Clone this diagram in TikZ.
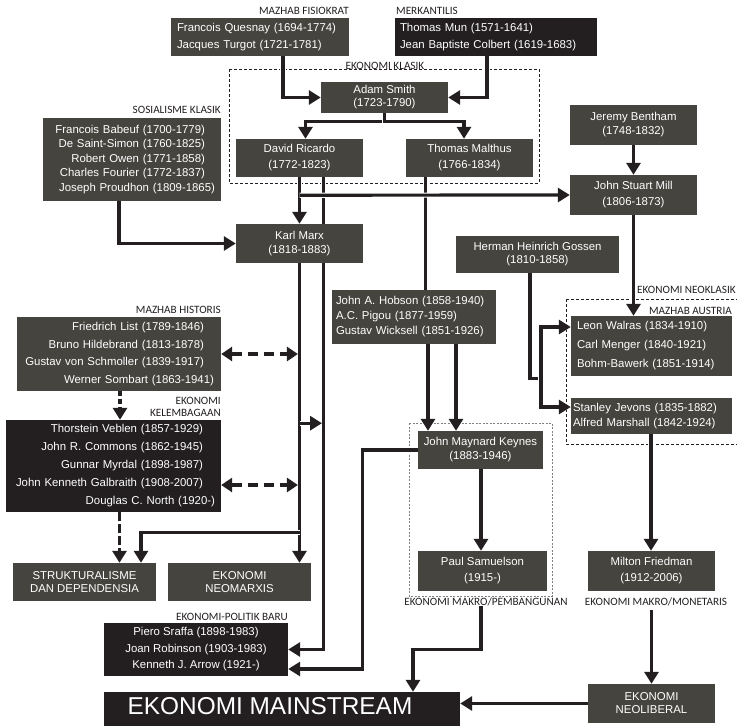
\documentclass[tikz,border=0pt]{standalone}
\usepackage{fontspec}
\setmainfont{Liberation Sans}
\newfontfamily\lblfont{Carlito}
\usetikzlibrary{arrows.meta,calc,backgrounds}
\definecolor{boxgray}{HTML}{45443F}
\definecolor{boxblack}{HTML}{231F20}
\definecolor{ink}{HTML}{231F20}
\newcommand\boxfs[1]{\fontsize{11.4}{#1}\selectfont}
\newcommand\lblfs{\lblfont\fontsize{11.2}{12.5}\selectfont}
\begin{document}
\begin{tikzpicture}[x=1pt,y=-1pt,
  gbox/.style={fill=boxgray,text=white,inner sep=0pt},
  kbox/.style={fill=boxblack,text=white,inner sep=0pt},
  lbl/.style={text=ink,inner sep=0pt,font=\lblfs},
  conn/.style={draw=ink,line width=3.2pt,preaction={draw=white,line width=5.2pt}},
  arr/.style={conn,-{Triangle[width=14pt,length=12pt]}},
  darr/.style={draw=ink,line width=3.2pt,dash pattern=on 10pt off 6pt,{Triangle[width=14pt,length=11pt]}-{Triangle[width=14pt,length=11pt]}},
  dvert/.style={draw=ink,line width=3.2pt,dash pattern=on 5pt off 3pt,-{Triangle[width=14pt,length=12pt]}},
  frame/.style={draw=ink,line width=0.7pt,dash pattern=on 3pt off 2pt},
  gframe/.style={draw=gray,line width=0.8pt,dash pattern=on 2pt off 1.5pt},
]
\useasboundingbox (0,0) rectangle (737,726);

% ---------- boxes ----------
\node[gbox,minimum width=178pt,minimum height=38pt,text width=166pt,align=left,font=\boxfs{17}] (quesnay) at (260,37) {Francois Quesnay (1694-1774)\\Jacques Turgot (1721-1781)};
\node[kbox,minimum width=202pt,minimum height=38pt,text width=192pt,align=left,font=\boxfs{17}] (mun) at (496,37) {Thomas Mun (1571-1641)\\Jean Baptiste Colbert (1619-1683)};
\node[gbox,minimum width=127pt,minimum height=31pt,align=center,font=\boxfs{13}] (smith) at (384.5,97.5) {Adam Smith\\(1723-1790)};
\node[gbox,minimum width=127pt,minimum height=38pt,align=center,font=\boxfs{16}] (ricardo) at (299.5,158) {David Ricardo\\(1772-1823)};
\node[gbox,minimum width=127pt,minimum height=38pt,align=center,font=\boxfs{16}] (malthus) at (469.5,158) {Thomas Malthus\\(1766-1834)};
\node[gbox,minimum width=127pt,minimum height=40pt,align=center,font=\boxfs{14}] (bentham) at (633.5,125) {Jeremy Bentham\\(1748-1832)};
\node[gbox,minimum width=127pt,minimum height=40pt,align=center,font=\boxfs{16}] (mill) at (633.5,195) {John Stuart Mill\\(1806-1873)};
\node[gbox,minimum width=178pt,minimum height=83pt,text width=166pt,align=right,font=\boxfs{14.5}] (babeuf) at (132,159.5) {\rightskip=10pt\relax Francois Babeuf (1700-1779)\\De Saint-Simon (1760-1825)\\Robert Owen (1771-1858)\\Charles Fourier (1772-1837)\\Joseph Proudhon (1809-1865)};
\node[gbox,minimum width=127pt,minimum height=39pt,align=center,font=\boxfs{14}] (marx) at (299.5,243.5) {Karl Marx\\(1818-1883)};
\node[gbox,minimum width=163pt,minimum height=37pt,align=center,font=\boxfs{13}] (gossen) at (537.5,254.5) {Herman Heinrich Gossen\\(1810-1858)};
\node[gbox,minimum width=164pt,minimum height=54pt,text width=156pt,align=left,font=\boxfs{15}] (hobson) at (414,317) {John A. Hobson (1858-1940)\\A.C. Pigou (1877-1959)\\Gustav Wicksell (1851-1926)};
\node[gbox,minimum width=204pt,minimum height=74pt,text width=190pt,align=right,font=\boxfs{17.7}] (historis) at (119,354) {\rightskip=10pt\relax Friedrich List (1789-1846)\\Bruno Hildebrand (1813-1878)\\Gustav von Schmoller (1839-1917)\\Werner Sombart (1863-1941)};
\node[kbox,minimum width=215pt,minimum height=92pt,text width=203pt,align=right,font=\boxfs{18}] (kelembagaan) at (113.5,466) {\rightskip=12pt\relax Thorstein Veblen (1857-1929)\\John R. Commons (1862-1945)\\Gunnar Myrdal (1898-1987)\\John Kenneth Galbraith (1908-2007)\\Douglas C. North (1920-)};
\node[gbox,minimum width=161pt,minimum height=60pt,text width=149pt,align=left,font=\boxfs{19}] (walras) at (651.5,346) {Leon Walras (1834-1910)\\Carl Menger (1840-1921)\\Bohm-Bawerk (1851-1914)};
\node[gbox,minimum width=161pt,minimum height=36pt,text width=157pt,align=left,font=\boxfs{15}] (jevons) at (651.5,416) {Stanley Jevons (1835-1882)\\Alfred Marshall (1842-1924)};
\node[gbox,minimum width=125pt,minimum height=38pt,align=center,font=\boxfs{14}] (keynes) at (480.5,450) {John Maynard Keynes\\(1883-1946)};
\node[gbox,minimum width=129pt,minimum height=40pt,align=center,font=\boxfs{16}] (samuelson) at (482.5,571) {Paul Samuelson\\(1915-)};
\node[gbox,minimum width=127pt,minimum height=40pt,align=center,font=\boxfs{16}] (friedman) at (651.5,571) {Milton Friedman\\(1912-2006)};
\node[gbox,minimum width=143pt,minimum height=38pt,align=center,font=\boxfs{13.5}] (strukt) at (84.5,582) {STRUKTURALISME\\DAN DEPENDENSIA};
\node[gbox,minimum width=143pt,minimum height=38pt,align=center,font=\boxfs{13.5}] (neomarxis) at (239.5,582) {EKONOMI\\NEOMARXIS};
\node[kbox,minimum width=184pt,minimum height=53pt,align=center,font=\boxfs{16.5}] (sraffa) at (196,649.5) {Piero Sraffa (1898-1983)\\Joan Robinson (1903-1983)\\Kenneth J. Arrow (1921-)};
\node[kbox,minimum width=356pt,minimum height=34pt,text depth=6pt,font=\fontsize{24.4}{28}\selectfont] (mainstream) at (282,709) {EKONOMI MAINSTREAM\hspace*{24pt}};
\node[gbox,minimum width=127pt,minimum height=39pt,align=center,font=\boxfs{13}] (neoliberal) at (651.5,703.5) {EKONOMI\\NEOLIBERAL};

% ---------- labels ----------
\node[lbl,anchor=east] (lfis) at (349,10.5) {MAZHAB FISIOKRAT};
\node[lbl,anchor=west] (lmerk) at (396,10.5) {MERKANTILIS};
\node[lbl] (lklasik) at (385,65.5) {EKONOMI KLASIK};
\node[lbl,anchor=east] (lsos) at (221,110) {SOSIALISME KLASIK};
\node[lbl,anchor=east] (lhist) at (221,310) {MAZHAB HISTORIS};
\node[lbl,anchor=east,align=right] (lkel) at (221,407) {EKONOMI\\KELEMBAGAAN};
\node[lbl,anchor=west] (lneo) at (637,289.5) {EKONOMI NEOKLASIK};
\node[lbl,anchor=east] (laus) at (732,310.5) {MAZHAB AUSTRIA};
\node[lbl] (lmakro) at (486,601.5) {EKONOMI MAKRO/PEMBANGUNAN};
\node[lbl] (lmon) at (656,601.5) {EKONOMI MAKRO/MONETARIS};
\node[lbl] (lepb) at (232,617) {EKONOMI-POLITIK BARU};

% ---------- frames and connectors ----------
\begin{scope}[on background layer]
\draw[frame] (229,69) rectangle (539,183);
\draw[gframe] (409,423) rectangle (552,596);
\draw[frame] (566,299) rectangle (760,444);

\draw[arr] ($(quesnay.south)+(23,0)$) |- (smith.west);
\draw[arr] ($(mun.south)+(-9,0)$) |- (smith.east);
\draw[arr] (smith.south) -- ++(0,8) -| ($(ricardo.north)+(6,0)$);
\draw[arr] (smith.south) -- ++(0,8) -| ($(malthus.north)+(-5.5,0)$);
\draw[arr] (bentham.south) -- (mill.north);
\draw[arr] (mill.south) -- ($(walras.north)+(-18,0)$);
\draw[conn] ($(malthus.south)+(-44,0)$) -- ($(hobson.north)+(11.5,0)$);
\draw[arr] ($(ricardo.south)+(24,0)$) |- (sraffa.east);
\draw[arr] (ricardo.south) -- (marx.north);
\draw[arr] ($(ricardo.south)+(0,18)$) -- (mill.west);
\draw[arr] ($(babeuf.south)+(-13,0)$) |- (marx.west);
\draw[arr] (marx.south) -- ($(neomarxis.north)+(60,0)$);
\draw[arr] ($(marx.south)+(0,269)$) -| ($(strukt.north)+(56.5,0)$);
\draw[arr] ($(marx.south)+(0,160)$) -- ($(ricardo.south)+(22.5,246)$);
\draw[darr,shorten >=1.6pt] (historis.east) -- (historis.east -| marx.south);
\coordinate (kl) at ($(kelembagaan.east)+(0,19)$);
\draw[darr,shorten >=1.6pt] (kl) -- (kl -| marx.south);
\draw[dvert] ($(historis.south)+(1,0)$) -- ($(kelembagaan.north)+(6.5,0)$);
\draw[dvert,dash pattern=on 9pt off 3pt] ($(kelembagaan.south)+(6,0)$) -- ($(strukt.north)+(35,0)$);
\draw[arr] (keynes.west) -- ++(-55,0) |- ($(sraffa.east)+(0,19.5)$);
\draw[arr] ($(hobson.south)+(14,0)$) -- ($(keynes.north)+(-52.5,0)$);
\draw[arr] ($(hobson.south)+(42,0)$) -- ($(keynes.north)+(-24.5,0)$);
\draw[arr] ($(keynes.south)+(0.5,0)$) -- ($(samuelson.north)+(-1.5,0)$);
\draw[arr] ($(samuelson.south)+(-1.5,15)$) -- ++(0,43) -| ($(mainstream.north)+(131,0)$);
\draw[arr] ($(jevons.south)+(-0.5,0)$) -- ($(friedman.north)+(-0.5,0)$);
\draw[arr] ($(friedman.south)+(0,19)$) -- (neoliberal.north);
\draw[arr] (neoliberal.west) -- (neoliberal.west -| mainstream.east);
\coordinate (gj) at ($(gossen.south)+(3.5,105)$);
\draw[conn] ($(gossen.south)+(-7.5,0)$) |- (gj);
\draw[arr] (gj) |- ($(walras.west)+(0,-19)$);
\draw[arr] (gj) |- ($(jevons.west)+(0,-9)$);
\end{scope}
\end{tikzpicture}
\end{document}
